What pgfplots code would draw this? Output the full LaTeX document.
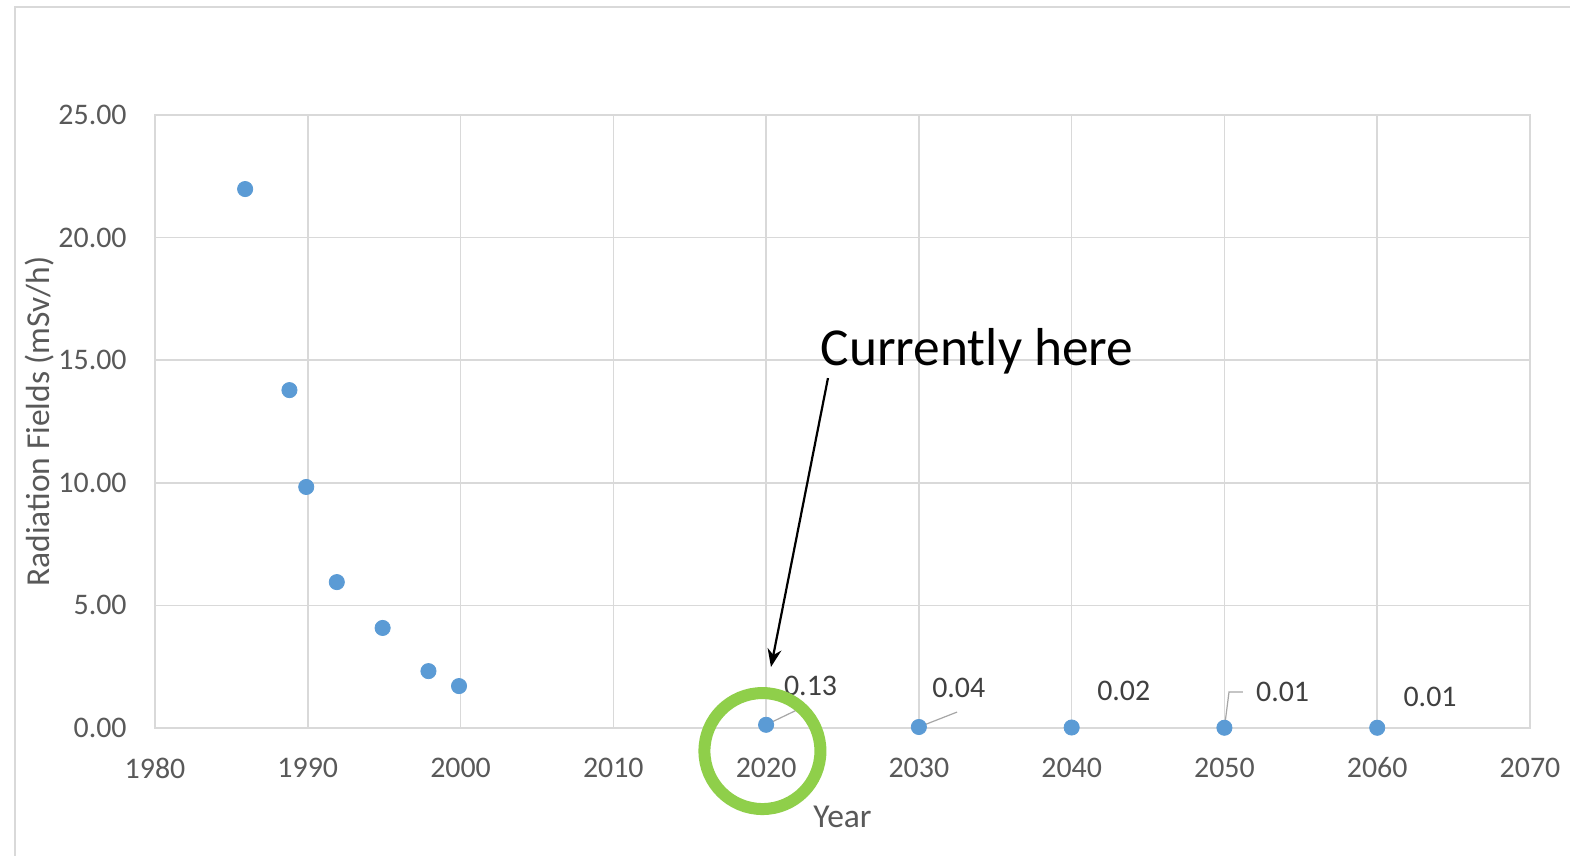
\documentclass[border=0pt]{standalone}
\usepackage{pgfplots}
\pgfplotsset{compat=1.18}
\usetikzlibrary{arrows.meta}
\usepackage{fontspec}
\setmainfont{Carlito}
\definecolor{gridgray}{HTML}{D9D9D9}
\definecolor{tickgray}{HTML}{595959}
\definecolor{lblgray}{HTML}{404040}
\definecolor{ptblue}{HTML}{5B9BD5}
\definecolor{ringgreen}{HTML}{8FCF4A}
\begin{document}
\begin{tikzpicture}
\useasboundingbox (0,0) rectangle (785bp,428bp);
\clip (0,0) rectangle (785bp,428bp);
\fill[white] (0,0) rectangle (785bp,428bp);
\draw[gray!30, line width=1bp] (7.5bp,-5bp) rectangle (795bp,424.5bp);
\begin{axis}[
  at={(77.5bp,64bp)}, anchor=south west,
  scale only axis, width=687.5bp, height=306.5bp,
  xmin=1980, xmax=2070, ymin=0, ymax=25,
  xtick={1980,1990,...,2070}, ytick={0,5,...,25},
  grid=major, major grid style={gridgray, line width=0.75bp},
  axis line style={gridgray, line width=0.75bp},
  major tick length=0pt,
  clip=false,
  /pgf/number format/assume math mode=true,
  xticklabel={\pgfmathprintnumber[1000 sep={}]{\tick}},
  yticklabel={\pgfmathprintnumber[fixed, fixed zerofill, precision=2]{\tick}},
  ticklabel style={font=\fontsize{15}{18}\selectfont, text=tickgray},
  xticklabel style={anchor=center, yshift=-20bp},
  yticklabel style={anchor=east, inner sep=0pt, xshift=-14bp},
  xlabel={Year}, ylabel={Radiation Fields (mSv/h)},
  label style={font=\fontsize{16.8}{20}\selectfont, text=tickgray},
  xlabel style={at={(axis description cs:0.5,-0.145)}, anchor=center},
  ylabel style={at={(axis description cs:-0.0836,0.5)}, anchor=center},
]
\addplot[only marks, mark=*, mark size=3.8bp, mark options={fill=ptblue, draw=ptblue}]
coordinates {
(1985.9,21.98) (1988.8,13.78) (1989.9,9.83) (1991.9,5.95) (1994.9,4.08)
(1997.9,2.32) (1999.9,1.71) (2020,0.13) (2030,0.04) (2040,0.02) (2050,0.01) (2060,0.01)
};
% leader lines
\draw[gray!70, line width=0.6bp] (axis cs:2020,0.13) -- (axis cs:2022.0,0.73);
\draw[gray!70, line width=0.6bp] (axis cs:2030,0.04) -- (axis cs:2032.5,0.65);
\draw[gray!70, line width=0.6bp] (axis cs:2050,0.01) -- (axis cs:2050.3,1.47) -- (axis cs:2051.2,1.47);
% data labels
\tikzset{dl/.style={anchor=west, inner sep=0pt, font=\fontsize{15}{18}\selectfont, text=lblgray}}
\node[dl] at (axis cs:2021.15,1.71) {0.13};
\node[dl] at (axis cs:2030.85,1.63) {0.04};
\node[dl] at (axis cs:2041.65,1.51) {0.02};
\node[dl] at (axis cs:2052.05,1.47) {0.01};
\node[dl] at (axis cs:2061.7,1.26) {0.01};
% annotation
\draw[ringgreen, line width=6bp] (axis cs:2019.76,-0.94) circle [radius=29bp];
\draw[black, line width=1.1bp, -{Stealth[length=9bp,width=7bp]}] (axis cs:2024.05,14.27) -- (axis cs:2020.32,2.49);
\node[anchor=west, inner sep=0pt, font=\fontsize{26.8}{30}\selectfont] at (axis cs:2023.55,15.35) {Currently here};
\end{axis}
\end{tikzpicture}
\end{document}
